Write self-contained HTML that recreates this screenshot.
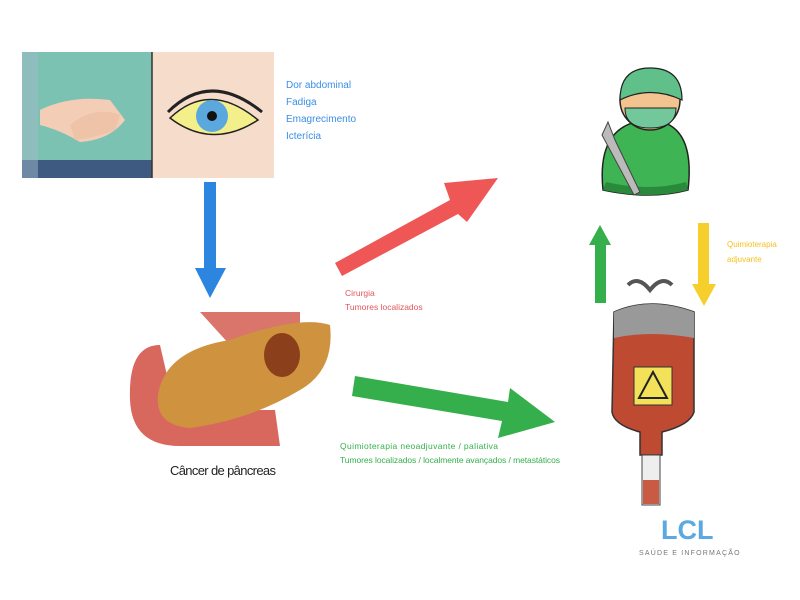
<!DOCTYPE html>
<html><head><meta charset="utf-8"><style>
html,body{margin:0;padding:0;background:#fff;width:800px;height:600px;overflow:hidden}
svg{display:block}
text{font-family:"Liberation Sans",sans-serif}
</style></head><body>
<svg width="800" height="600" viewBox="0 0 800 600" xmlns="http://www.w3.org/2000/svg">
<!-- top-left image -->
<rect x="22" y="52" width="130" height="126" fill="#7cc2b2"/>
<rect x="22" y="160" width="130" height="18" fill="#3e5a80"/>
<rect x="22" y="52" width="16" height="126" fill="#9db7c8" opacity="0.5"/>
<path d="M40 110 Q70 95 110 100 L125 120 Q110 140 80 142 Q60 130 40 125Z" fill="#f3cdb5"/>
<path d="M70 125 Q95 105 120 115 L115 130 Q95 138 75 140Z" fill="#efc3a8"/>
<rect x="152" y="52" width="122" height="126" fill="#f6dccb"/>
<line x1="152" y1="52" x2="152" y2="178" stroke="#333" stroke-width="1.5"/>
<path d="M170 118 Q210 80 258 120 Q212 150 170 118Z" fill="#f3ef8a" stroke="#222" stroke-width="1.5"/>
<circle cx="212" cy="116" r="16" fill="#5ba8de"/>
<circle cx="212" cy="116" r="5" fill="#111"/>
<path d="M168 112 Q210 70 262 112" fill="none" stroke="#222" stroke-width="3"/>
<text font-size="10" fill="#3a8ee6"><tspan x="286" y="88">Dor abdominal</tspan><tspan x="286" y="105">Fadiga</tspan><tspan x="286" y="122">Emagrecimento</tspan><tspan x="286" y="139">Icterícia</tspan></text>
<!-- blue arrow -->
<polygon points="204,182 216,182 216,268 226,268 210,298 195,268 204,268" fill="#2c86e0"/>
<!-- pancreas -->
<path d="M200 312 L300 312 L300 340 L230 345Z" fill="#d9756a"/>
<path d="M160 345 Q128 345 130 400 Q132 446 180 446 L280 446 L275 410 L175 410 Z" fill="#d8685e"/>
<path d="M158 395 Q165 350 230 340 Q300 315 330 325 Q335 370 300 390 Q250 420 190 428 Q155 425 158 395Z" fill="#cf9340"/>
<ellipse cx="282" cy="355" rx="18" ry="22" fill="#7a2a12" opacity="0.8"/>
<text x="170" y="475" font-size="13" fill="#222" textLength="106">Câncer de pâncreas</text>
<!-- red arrow -->
<polygon points="335,263 450,200 444,183 498,178 467,222 458,214 342,276" fill="#ef5757"/>
<text font-size="8.5" fill="#e0575a"><tspan x="345" y="296">Cirurgia</tspan><tspan x="345" y="310">Tumores localizados</tspan></text>
<!-- green arrow -->
<polygon points="355,376 508,402 510,388 555,422 498,438 502,421 352,396" fill="#34af4c"/>
<text font-size="8.5" fill="#34af4c"><tspan x="340" y="449" textLength="158">Quimioterapia neoadjuvante / paliativa</tspan><tspan x="340" y="463" textLength="220">Tumores localizados / localmente avançados / metastáticos</tspan></text>
<!-- surgeon -->
<path d="M603 190 Q596 122 650 120 Q696 122 688 190 Q650 200 603 190Z" fill="#3fb455" stroke="#222" stroke-width="1.5"/>
<path d="M606 182 Q650 192 686 182 L688 190 Q650 200 603 190Z" fill="#2a8a3c"/>
<circle cx="650" cy="100" r="30" fill="#f3c490" stroke="#222" stroke-width="1.5"/>
<path d="M620 100 Q620 68 650 68 Q682 68 682 100 Q650 85 620 100Z" fill="#5fc08a" stroke="#222" stroke-width="1.2"/>
<path d="M625 108 L676 108 Q676 128 650 128 Q625 128 625 108Z" fill="#72c89a" stroke="#222" stroke-width="1"/>
<polygon points="602,135 608,122 615,140 640,192 634,195" fill="#bbb" stroke="#444" stroke-width="1"/>
<!-- green up / yellow down arrows -->
<polygon points="600,225 611,245 606,245 606,303 595,303 595,245 589,245" fill="#34af4c"/>
<polygon points="698,223 709,223 709,284 716,284 704,306 692,284 698,284" fill="#f6cf2c"/>
<text font-size="8" fill="#f3c322"><tspan x="727" y="247">Quimioterapia</tspan><tspan x="727" y="262">adjuvante</tspan></text>
<!-- IV bag -->
<path d="M628 285 Q638 275 650 290 Q662 275 672 285" fill="none" stroke="#555" stroke-width="4"/>
<path d="M614 312 Q650 296 694 312 L694 412 Q690 425 662 432 L662 455 L640 455 L640 432 Q614 425 612 412Z" fill="#bf4a32" stroke="#333" stroke-width="1.5"/>
<path d="M614 312 Q650 296 694 312 L694 338 Q650 330 614 338Z" fill="#999"/>
<rect x="634" y="367" width="38" height="38" fill="#f3e15a" stroke="#333"/>
<polygon points="653,372 667,398 639,398" fill="none" stroke="#222" stroke-width="2"/>
<rect x="642" y="455" width="18" height="50" fill="#eee" stroke="#444"/>
<rect x="643" y="480" width="16" height="24" fill="#c95a43"/>
<!-- logo -->
<text x="661" y="539" font-size="27" font-weight="bold" fill="#5aa9e0">LCL</text>
<text x="639" y="555" font-size="7" fill="#777" letter-spacing="1.2">SAÚDE E INFORMAÇÃO</text>
</svg>
</body></html>
